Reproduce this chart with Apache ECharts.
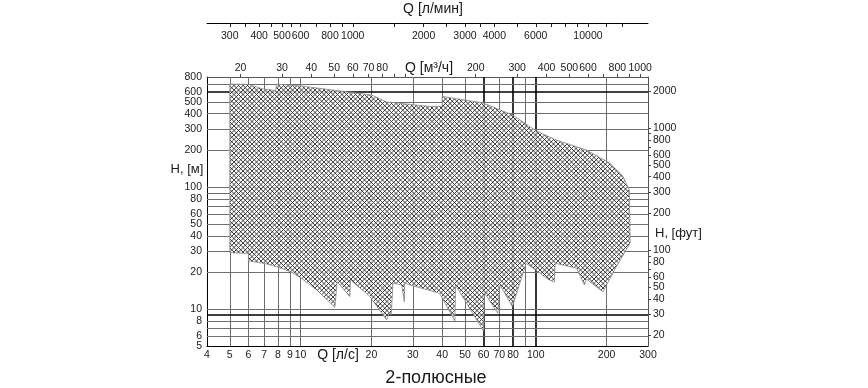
<!DOCTYPE html>
<html><head><meta charset="utf-8">
<script src="https://cdn.jsdelivr.net/npm/echarts@6/dist/echarts.min.js"></script>
<style>html,body{margin:0;padding:0;background:#fff}#c{width:868px;height:388px}</style>
</head><body><div id="c"></div>
<script>
// ---- axis values ----
const qLabelsLs = [4,5,6,7,8,9,10,20,30,40,50,60,70,80,100,200,300];
const qGridLs = [5,6,7,8,9,10,20,30,40,50,60,70,80,90,100,200];
const qGridThick = [60,80,100];
const hLabelsM = [6,8,10,20,30,40,50,60,80,100,200,300,400,500,600,800];
const hLabelsMinM = [5];
const hGridM = [6,7,8,9,10,20,30,40,50,60,70,80,90,100,200,300,400,500,600,700];
const hGridThick = [9,600];
const qLabelsM3h = [20,30,40,50,60,70,80,200,300,400,500,600,800,1000];
const qTicksM3h = [20,30,40,50,60,70,80,90,100,200,300,400,500,600,700,800,900,1000];
const qLabelsLmin = [300,400,500,600,800,1000,2000,3000,4000,6000,10000];
const qTicksLmin = [300,350,400,450,500,550,600,700,800,900,1000,1500,2000,2500,3000,3500,4000,5000,6000,7000,8000,9000,10000,12000,14000];
const hLabelsFt = [20,30,40,50,60,80,100,200,300,400,500,600,800,1000,2000];
const hTicksFt = [20,30,40,50,60,70,80,90,100,200,300,400,500,600,700,800,900,1000,2000];
// ---- performance envelope (Q l/s, H m) ----
const envelopeQ = [5,6.0,6.9,7.85,7.9,10,20,23.2,35.4,40,40,59.4,79.7,100.5,122,164,206,234,250,252,242,220,193,164,161,149,121,120,114,91,79.5,70.5,69,60.6,60,45.6,45.3,39,27.7,27.6,26.9,24.7,24.3,24.0,23.2,19.7,16.3,16.2,14.3,14.0,11.7,10.1,9.07,8.03,7.05,6.0,6.0,5];
const envelopeH = [700,696,639,621,700,676,570,500,459,459,555,491,391,289,244,202,158,124,95,35,30.6,22.3,13.9,17.7,15.8,21.7,23.8,16.7,17.4,23.8,10.5,15.8,9.27,13.6,6.6,15.8,8.0,13.5,16.3,11.5,15.8,16.4,9.0,9.5,8.2,12.7,17.4,12.7,16.8,10.4,14.4,17.9,20.3,22.1,23.7,24.9,28.7,29.1];

const FONT = "'Liberation Sans', Arial, sans-serif";
const TXT = '#1a1a1a';

// crosshatch pattern
const pc = document.createElement('canvas');
pc.width = 9; pc.height = 9;
const g = pc.getContext('2d');
g.fillStyle = 'rgba(255,255,255,0.82)';
g.fillRect(0, 0, 9, 9);
g.strokeStyle = '#2b2b2b'; g.lineWidth = 0.9;
for (let k = -3; k <= 3; k++) {
  g.beginPath(); g.moveTo(k*4.5, 0); g.lineTo(k*4.5 + 9, 9); g.stroke();
  g.beginPath(); g.moveTo(k*4.5 + 9, 0); g.lineTo(k*4.5, 9); g.stroke();
}

const chart = echarts.init(document.getElementById('c'), null, {renderer: 'canvas'});
const gridLine = (c, w) => ({color: c, width: w, type: 'solid'});
const markData = [
  ...qGridLs.map(v => ({xAxis: v, lineStyle: qGridThick.includes(v) ? gridLine('#000', 1.6) : gridLine('#6e6e6e', 1)})),
  ...hGridM.map(v => ({yAxis: v, lineStyle: hGridThick.includes(v) ? gridLine('#000', 1.6) : gridLine('#6e6e6e', 1)}))
];
const fmt = v => String(v);
const lab = (vals, margin, extra) => Object.assign({customValues: vals, formatter: fmt, margin: margin, color: TXT, fontSize: 10.5, fontFamily: FONT, hideOverlap: false}, extra || {});

chart.setOption({
  animation: false,
  backgroundColor: '#fff',
  grid: {left: 207, top: 77, width: 441, height: 269, outerBoundsMode: 'none', containLabel: false},
  xAxis: [
    {type: 'log', logBase: 10, min: 4, max: 300, position: 'bottom', gridIndex: 0,
     axisLine: {show: true, lineStyle: {color: '#000', width: 1}},
     axisTick: {show: false}, splitLine: {show: false}, minorSplitLine: {show: false},
     axisLabel: lab(qLabelsLs, 4, {showMinLabel: true, showMaxLabel: true})},
    {type: 'log', logBase: 10, min: 4*3.6, max: 300*3.6, position: 'top', gridIndex: 0,
     axisLine: {show: true, lineStyle: {color: '#555', width: 1}},
     axisTick: {show: true, customValues: qTicksM3h, length: 3, lineStyle: {color: '#444'}},
     splitLine: {show: false},
     axisLabel: lab(qLabelsM3h, 3, {showMinLabel: true, showMaxLabel: true})},
    {type: 'log', logBase: 10, min: 4*60, max: 300*60, position: 'top', offset: 54, gridIndex: 0,
     axisLine: {show: true, lineStyle: {color: '#000', width: 1}},
     axisTick: {show: true, inside: true, customValues: qTicksLmin, length: 4, lineStyle: {color: '#222'}},
     splitLine: {show: false},
     axisLabel: lab(qLabelsLmin, 8, {inside: true, showMinLabel: true, showMaxLabel: true})}
  ],
  yAxis: [
    {type: 'log', logBase: 10, min: 5, max: 800, position: 'left', gridIndex: 0,
     axisLine: {show: true, lineStyle: {color: '#000', width: 1}},
     axisTick: {show: false}, splitLine: {show: false},
     axisLabel: lab(hLabelsM, 5, {showMinLabel: true, showMaxLabel: true})},
    {type: 'log', logBase: 10, min: 5/0.3048, max: 800/0.3048, position: 'right', gridIndex: 0,
     axisLine: {show: true, lineStyle: {color: '#555', width: 1}},
     axisTick: {show: true, customValues: hTicksFt, length: 3, lineStyle: {color: '#444'}},
     splitLine: {show: false},
     axisLabel: lab(hLabelsFt, 5, {showMinLabel: true, showMaxLabel: true})},
    {type: 'log', logBase: 10, min: 5, max: 800, position: 'left', gridIndex: 0,
     axisLine: {show: false}, axisTick: {show: false}, splitLine: {show: false},
     axisLabel: lab(hLabelsMinM, 5, {showMinLabel: true})}
  ],
  series: [
    {type: 'line', xAxisIndex: 0, yAxisIndex: 0, data: [], z: 1, silent: true,
     markLine: {silent: true, symbol: 'none', label: {show: false}, animation: false, z: 1, data: markData}},
    {type: 'custom', xAxisIndex: 0, yAxisIndex: 0, z: 5, silent: true, clip: true,
     data: [[10, 100]],
     renderItem: (params, api) => ({
       type: 'polygon',
       z2: 10,
       shape: {points: envelopeQ.map((q, i) => api.coord([q, envelopeH[i]]))},
       style: {fill: {image: pc, repeat: 'repeat'}, stroke: '#8a8a8a', lineWidth: 0.8}
     })}
  ],
  graphic: [
    {type: 'text', x: 433, y: 9, style: {text: 'Q [л/мин]', fontSize: 14, fontFamily: FONT, fill: TXT, align: 'center', verticalAlign: 'middle'}},
    {type: 'text', x: 429, y: 68, style: {text: 'Q [м³/ч]', fontSize: 14, fontFamily: FONT, fill: TXT, align: 'center', verticalAlign: 'middle'}},
    {type: 'text', x: 338, y: 355, style: {text: 'Q [л/с]', fontSize: 14, fontFamily: FONT, fill: TXT, align: 'center', verticalAlign: 'middle'}},
    {type: 'text', x: 187, y: 169, style: {text: 'H, [м]', fontSize: 13, fontFamily: FONT, fill: TXT, align: 'center', verticalAlign: 'middle'}},
    {type: 'text', x: 655, y: 233, style: {text: 'H, [фут]', fontSize: 13, fontFamily: FONT, fill: TXT, align: 'left', verticalAlign: 'middle'}},
    {type: 'text', x: 436, y: 378, style: {text: '2-полюсные', fontSize: 18, fontFamily: FONT, fill: TXT, align: 'center', verticalAlign: 'middle'}}
  ]
});
</script></body></html>
